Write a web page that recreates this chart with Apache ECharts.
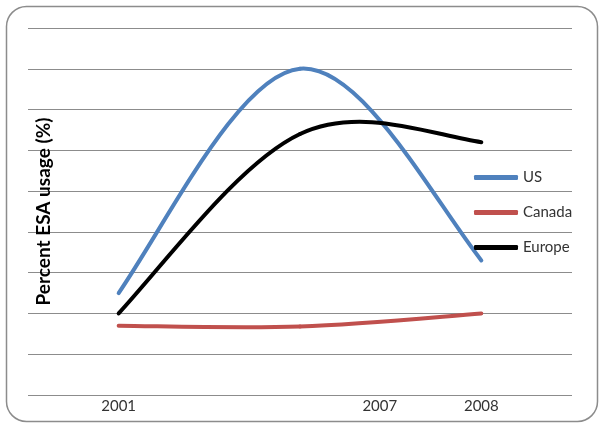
<!DOCTYPE html>
<html>
<head>
<meta charset="utf-8">
<script src="https://cdn.jsdelivr.net/npm/echarts@6/dist/echarts.min.js"></script>
<style>html,body{margin:0;padding:0;background:#fff}#c{width:600px;height:423px}</style>
</head>
<body>
<div id="c"></div>
<script>
// Data
var xPositions = [0, 1, 2];
var usValues = [2.5, 8.0, 3.3];
var canadaValues = [1.7, 1.68, 2.0];
var europeValues = [2.0, 6.4, 6.2];
var xTickValues = [0, 1.44, 2];
var xTickLabels = ['2001', '2007', '2008'];
var seriesNames = ['US', 'Canada', 'Europe'];
var seriesColors = ['#4f81bd', '#c0504d', '#000000'];

function pairs(vals) { return xPositions.map(function (x, i) { return [x, vals[i]]; }); }

// Smoothed line (spreadsheet-style Bezier) drawn from projected data points
function smoothRender(vals, color) {
  return function (params, api) {
    if (params.dataIndex !== 0) return null;
    var P = xPositions.map(function (x, i) { return api.coord([x, vals[i]]); });
    var n = P.length, cpA = [], cpB = [];
    for (var i = 1; i < n - 1; i++) {
      var tx = (P[i + 1][0] - P[i - 1][0]) / 6, ty = (P[i + 1][1] - P[i - 1][1]) / 6;
      cpB[i] = [P[i][0] - tx, P[i][1] - ty];
      cpA[i] = [P[i][0] + tx, P[i][1] + ty];
    }
    function endCp(e, adj, cpAdj) {
      if (!cpAdj) return [e[0] + (adj[0] - e[0]) / 3, e[1] + (adj[1] - e[1]) / 3];
      return [e[0] + ((adj[0] - e[0]) + (cpAdj[0] - e[0])) / 6,
              e[1] + ((adj[1] - e[1]) + (cpAdj[1] - e[1])) / 6];
    }
    cpA[0] = endCp(P[0], P[1], cpB[1]);
    cpB[n - 1] = endCp(P[n - 1], P[n - 2], cpA[n - 2]);
    var children = [];
    for (var j = 0; j < n - 1; j++) {
      children.push({
        type: 'bezierCurve',
        shape: { x1: P[j][0], y1: P[j][1], x2: P[j + 1][0], y2: P[j + 1][1],
                 cpx1: cpA[j][0], cpy1: cpA[j][1], cpx2: cpB[j + 1][0], cpy2: cpB[j + 1][1] },
        style: { fill: null, stroke: color, lineWidth: 4, lineCap: 'round' }
      });
    }
    return { type: 'group', children: children };
  };
}

var allVals = [usValues, canadaValues, europeValues];
var series = seriesNames.map(function (name, k) {
  return {
    name: name, type: 'custom', data: pairs(allVals[k]),
    encode: { x: 0, y: 1 },
    itemStyle: { color: seriesColors[k] },
    renderItem: smoothRender(allVals[k], seriesColors[k])
  };
});

var chart = echarts.init(document.getElementById('c'));
var fontFam = 'Lato, "Open Sans", sans-serif';
chart.setOption({
  animation: false,
  grid: { left: 28, right: 28, top: 28, bottom: 28 },
  graphic: [{
    type: 'rect', left: 4, top: 4, z: -1,
    shape: { width: 591, height: 415, r: 20 },
    style: { fill: 'none', stroke: '#8c8c8c', lineWidth: 1.5 }
  }],
  legend: {
    orient: 'vertical', left: 469, top: 165,
    itemWidth: 44, itemHeight: 5, itemGap: 20, icon: 'roundRect',
    textStyle: { fontFamily: fontFam, fontSize: 15, color: '#333' },
    data: seriesNames
  },
  xAxis: {
    type: 'value', min: -0.5, max: 2.5,
    axisLine: { show: false }, axisTick: { show: false }, splitLine: { show: false },
    axisLabel: {
      customValues: xTickValues, margin: 4,
      formatter: function (v) { var i = xTickValues.indexOf(v); return i >= 0 ? xTickLabels[i] : ''; },
      fontFamily: fontFam, fontSize: 15, color: '#333'
    }
  },
  yAxis: {
    type: 'value', min: 0, max: 9, interval: 1,
    name: 'Percent ESA usage (%)', nameLocation: 'middle', nameRotate: 90, nameGap: -25,
    nameTextStyle: { fontFamily: fontFam, fontSize: 19, fontWeight: 'bold', color: '#000' },
    axisLine: { show: false }, axisTick: { show: false }, axisLabel: { show: false },
    splitLine: { lineStyle: { color: '#8c8c8c', width: 1 } }
  },
  series: series
});
</script>
</body>
</html>
